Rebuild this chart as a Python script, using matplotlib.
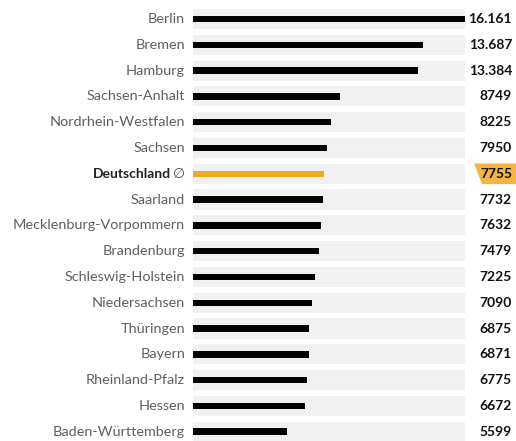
import matplotlib.pyplot as plt
import matplotlib.transforms as mtransforms
from matplotlib.patches import Polygon

# Werte je Bundesland (von oben nach unten)
laender = ["Berlin", "Bremen", "Hamburg", "Sachsen-Anhalt", "Nordrhein-Westfalen",
           "Sachsen", "Deutschland", "Saarland", "Mecklenburg-Vorpommern",
           "Brandenburg", "Schleswig-Holstein", "Niedersachsen", "Thüringen",
           "Bayern", "Rheinland-Pfalz", "Hessen", "Baden-Württemberg"]
werte = [16161, 13687, 13384, 8749, 8225, 7950, 7755, 7732, 7632,
         7479, 7225, 7090, 6875, 6871, 6775, 6672, 5599]
wert_labels = ["16.161", "13.687", "13.384", "8749", "8225", "7950", "7755", "7732",
               "7632", "7479", "7225", "7090", "6875", "6871", "6775", "6672", "5599"]
schnitt = "Deutschland"

plt.rcParams['font.family'] = ['Lato', 'DejaVu Sans']

W, H = 516, 441
fig = plt.figure(figsize=(W / 100, H / 100), dpi=100)
ax = fig.add_axes([193 / W, 0, (465 - 193) / W, 1])

pos = list(range(len(laender)))
maxwert = max(werte)

# graue Hintergrundbänder
ax.barh(pos, [maxwert] * len(pos), height=0.78, color="#f1f1f1", zorder=1)
farben = ["#f0a820" if l == schnitt else "black" for l in laender]
ax.barh(pos, werte, height=0.25, color=farben, zorder=2)

ax.set_xlim(0, maxwert)
ax.set_ylim(16.36, -0.736)
ax.axis("off")

trans = mtransforms.blended_transform_factory(fig.transFigure, ax.transData)
for i, (land, lab) in enumerate(zip(laender, wert_labels)):
    if land == schnitt:
        ax.text(185 / W, i, "\u2205", transform=trans, ha="right", va="center",
                fontsize=10, color="#555555", family=['DejaVu Sans'])
        ax.text(171 / W, i, land, transform=trans, ha="right", va="center",
                fontsize=10, color="#222222", fontweight="bold")
        tag = Polygon([(474 / W, i - 0.4), (516 / W, i - 0.4), (516 / W, i + 0.4),
                       (482 / W, i + 0.4), (478 / W, i)], closed=True,
                      transform=trans, facecolor="#f5b540", edgecolor="none",
                      clip_on=False, zorder=1)
        ax.add_patch(tag)
    else:
        ax.text(185 / W, i, land, transform=trans, ha="right", va="center",
                fontsize=10.4, color="#5f5f5f")
    ax.text(512 / W, i, lab, transform=trans, ha="right", va="center",
            fontsize=10, color="#111111", fontweight="bold", zorder=3)

fig.savefig("out.png", dpi=100)
